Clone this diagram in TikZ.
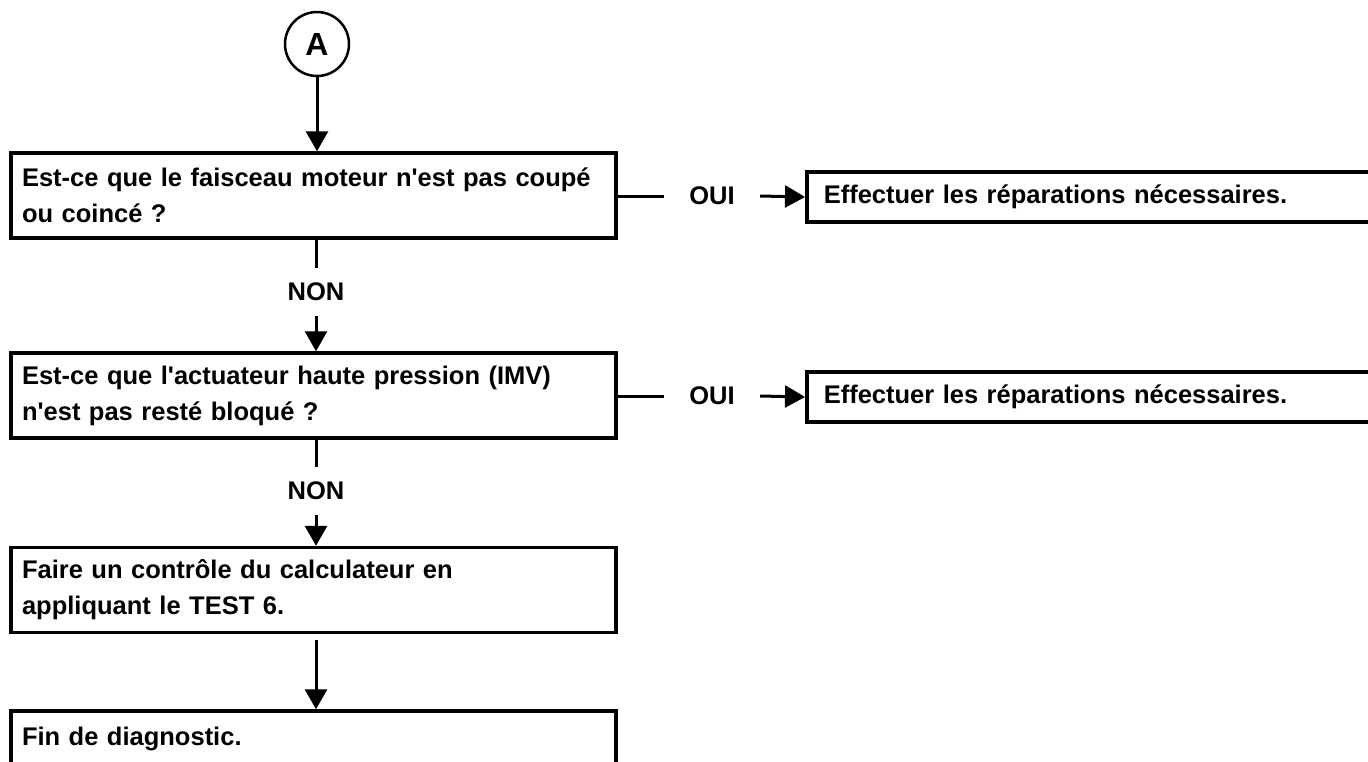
\documentclass[tikz,border=0pt]{standalone}
\usepackage{fontspec}
\setmainfont{Liberation Sans}
\usetikzlibrary{arrows.meta}
\begin{document}
\begin{tikzpicture}[x=1pt,y=-1pt,
  txt/.style={font=\bfseries\fontsize{25.5}{36}\selectfont},
  box/.style={txt, draw, line width=3.5pt, rectangle, minimum width=605pt, minimum height=85pt,
    text width=583pt, inner xsep=11pt, inner ysep=0pt, align=left},
  rbox/.style={txt, draw, line width=3.5pt, rectangle, minimum height=50pt, text width=700pt,
    inner xsep=17pt, inner ysep=0pt, align=left, anchor=west},
  lbl/.style={txt, inner sep=0pt},
  ln/.style={line width=3pt},
  arr/.style={line width=3pt, -{Triangle[length=20pt,width=22pt]}}]
\useasboundingbox (0,0) rectangle (1368,761);
\fill[white] (0,0) rectangle (1368,761);

\node[circle, draw, line width=2.5pt, minimum size=64pt, inner sep=0pt,
  font=\bfseries\fontsize{32}{32}\selectfont] (A) at (317,44) {A};

\node[box] (b1) at (313.5,195.5) {Est-ce que le faisceau moteur n\textquotesingle est pas coupé\\ou coincé ?};
\node[box] (b2) at (313.5,395.5) {Est-ce que l\textquotesingle actuateur haute pression (IMV)\\n\textquotesingle est pas resté bloqué ?};
\node[box] (b3) at (313.5,590) {Faire un contrôle du calculateur en\\appliquant le TEST 6.};
\node[box, minimum height=56pt] (b4) at (313.5,739) {Fin de diagnostic.};

\node[lbl, minimum height=48pt] (non1) at (316,292) {NON};
\node[lbl, minimum height=48pt] (non2) at (316,491) {NON};

\node[lbl, minimum width=96pt] (oui1) at (712,196) {OUI};
\node[lbl, minimum width=96pt] (oui2) at (712,396) {OUI};

\node[rbox] (r1) at (805,197) {Effectuer les réparations nécessaires.};
\node[rbox] (r2) at (805,397) {Effectuer les réparations nécessaires.};

\draw[arr] (A) -- (A |- b1.north);
\draw[ln] (non1 |- b1.south) -- (non1.north);
\draw[arr] (non1.south) -- (non1 |- b2.north);
\draw[ln] (non2 |- b2.south) -- (non2.north);
\draw[arr] (non2.south) -- (non2 |- b3.north);
\draw[arr] ([yshift=-6pt]non2 |- b3.south) -- (non2 |- b4.north);

\draw[ln] (b1.east |- oui1) -- (oui1.west);
\draw[arr] (oui1.east) -- (r1.west);
\draw[ln] (b2.east |- oui2) -- (oui2.west);
\draw[arr] (oui2.east) -- (r2.west);
\end{tikzpicture}
\end{document}
